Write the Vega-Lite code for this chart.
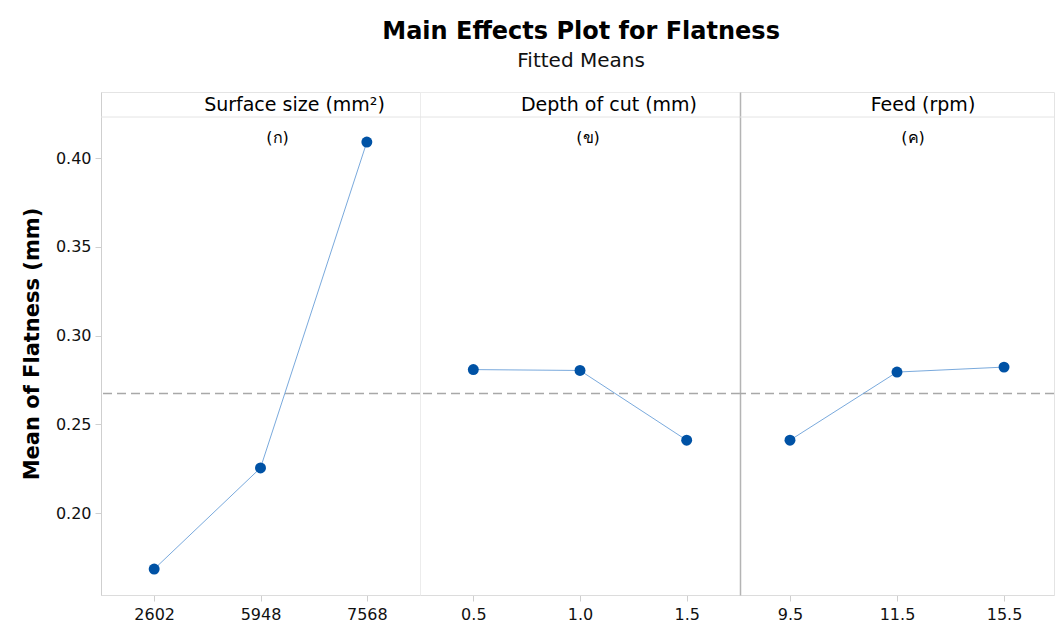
{
  "$schema": "https://vega.github.io/schema/vega-lite/v6.json",
  "padding": {"left": 20, "top": 19, "right": 0, "bottom": 0},
  "background": "white",
  "bounds": "flush",
  "title": {
    "text": "Main Effects Plot for Flatness",
    "subtitle": "Fitted Means",
    "font": "DejaVu Sans",
    "fontSize": 24,
    "fontWeight": "bold",
    "color": "#000",
    "subtitleFont": "DejaVu Sans",
    "subtitleFontSize": 20,
    "subtitleColor": "#111",
    "subtitlePadding": 7,
    "anchor": "middle",
    "dx": 43,
    "offset": 21
  },
  "datasets": {
    "means": [
      {"factor": "Surface size", "level": "2602", "mean": 0.1684},
      {"factor": "Surface size", "level": "5948", "mean": 0.2254},
      {"factor": "Surface size", "level": "7568", "mean": 0.409},
      {"factor": "Depth of cut", "level": "0.5", "mean": 0.2808},
      {"factor": "Depth of cut", "level": "1.0", "mean": 0.2803},
      {"factor": "Depth of cut", "level": "1.5", "mean": 0.241},
      {"factor": "Feed", "level": "9.5", "mean": 0.241},
      {"factor": "Feed", "level": "11.5", "mean": 0.2794},
      {"factor": "Feed", "level": "15.5", "mean": 0.2822}
    ],
    "headers": [
      {"factor": "Surface size", "title": "Surface size (mm²)", "sub": "(ก)"},
      {"factor": "Depth of cut", "title": "Depth of cut (mm)", "sub": "(ข)"},
      {"factor": "Feed", "title": "Feed (rpm)", "sub": "(ค)"}
    ],
    "grand": [{"g": 0.2673}]
  },
  "spacing": 0,
  "hconcat": [
    {
      "width": 319,
      "height": 503,
      "view": {"stroke": "#e4e4e4"},
      "layer": [
        {
          "data": {"name": "grand"},
          "mark": {"type": "rule", "color": "#e4e4e4", "strokeWidth": 1},
          "encoding": {
            "y": {"datum": 0.4231, "type": "quantitative", "scale": {"domain": [0.1538, 0.4372], "nice": false, "zero": false},
              "axis": {"values": [0.2, 0.25, 0.3, 0.35, 0.4], "format": ".2f", "title": "Mean of Flatness (mm)", "titleFont": "DejaVu Sans", "titleFontSize": 21, "titleFontWeight": "bold", "titleColor": "#000", "titlePadding": 13, "tickSize": 6, "labelPadding": 4, "domainColor": "#cfcfcf"}}
          }
        },
        {
          "data": {"name": "grand"},
          "mark": {"type": "rule", "color": "#a8a8a8", "strokeWidth": 1.6, "strokeDash": [9, 5]},
          "encoding": {
            "y": {"field": "g", "type": "quantitative", "scale": {"domain": [0.1538, 0.4372], "nice": false, "zero": false},
              "axis": {"values": [0.2, 0.25, 0.3, 0.35, 0.4], "format": ".2f", "title": "Mean of Flatness (mm)", "titleFont": "DejaVu Sans", "titleFontSize": 21, "titleFontWeight": "bold", "titleColor": "#000", "titlePadding": 13, "tickSize": 6, "labelPadding": 4, "domainColor": "#cfcfcf"}}
          }
        },
        {
          "data": {"name": "means"},
          "transform": [{"filter": "datum.factor === 'Surface size'"}],
          "mark": {"type": "line", "color": "#6a9fd8", "strokeWidth": 0.9},
          "encoding": {
            "x": {"field": "level", "type": "ordinal", "scale": {"domain": ["2602", "5948", "7568"], "type": "point", "padding": 0.5}, "axis": {"title": null, "labelAngle": 0}},
            "y": {"field": "mean", "type": "quantitative", "scale": {"domain": [0.1538, 0.4372], "nice": false, "zero": false},
              "axis": {"values": [0.2, 0.25, 0.3, 0.35, 0.4], "format": ".2f", "title": "Mean of Flatness (mm)", "titleFont": "DejaVu Sans", "titleFontSize": 21, "titleFontWeight": "bold", "titleColor": "#000", "titlePadding": 13, "tickSize": 6, "labelPadding": 4, "domainColor": "#cfcfcf"}}
          }
        },
        {
          "data": {"name": "means"},
          "transform": [{"filter": "datum.factor === 'Surface size'"}],
          "mark": {"type": "circle", "color": "#0052a5", "opacity": 1, "size": 120},
          "encoding": {
            "x": {"field": "level", "type": "ordinal", "scale": {"domain": ["2602", "5948", "7568"], "type": "point", "padding": 0.5}, "axis": {"title": null, "labelAngle": 0}},
            "y": {"field": "mean", "type": "quantitative", "scale": {"domain": [0.1538, 0.4372], "nice": false, "zero": false},
              "axis": {"values": [0.2, 0.25, 0.3, 0.35, 0.4], "format": ".2f", "title": "Mean of Flatness (mm)", "titleFont": "DejaVu Sans", "titleFontSize": 21, "titleFontWeight": "bold", "titleColor": "#000", "titlePadding": 13, "tickSize": 6, "labelPadding": 4, "domainColor": "#cfcfcf"}}
          }
        },
        {
          "data": {"name": "headers"},
          "transform": [{"filter": "datum.factor === 'Surface size'"}],
          "mark": {"type": "text", "font": "DejaVu Sans", "fontSize": 19, "color": "#000", "dx": 34, "baseline": "middle"},
          "encoding": {
            "x": {"datum": "5948", "type": "ordinal"},
            "y": {"datum": 0.4301, "type": "quantitative"},
            "text": {"field": "title"}
          }
        },
        {
          "data": {"name": "headers"},
          "transform": [{"filter": "datum.factor === 'Surface size'"}],
          "mark": {"type": "text", "font": "DejaVu Sans", "fontSize": 16, "color": "#000", "dx": 17, "baseline": "middle"},
          "encoding": {
            "x": {"datum": "5948", "type": "ordinal"},
            "y": {"datum": 0.4113, "type": "quantitative"},
            "text": {"field": "sub"}
          }
        }
      ]
    },
    {
      "width": 320,
      "height": 503,
      "view": {"stroke": "#ececec"},
      "layer": [
        {
          "data": {"name": "grand"},
          "mark": {"type": "rule", "color": "#e4e4e4", "strokeWidth": 1},
          "encoding": {
            "y": {"datum": 0.4231, "type": "quantitative", "scale": {"domain": [0.1538, 0.4372], "nice": false, "zero": false}, "axis": null}
          }
        },
        {
          "data": {"name": "grand"},
          "mark": {"type": "rule", "color": "#a8a8a8", "strokeWidth": 1.6, "strokeDash": [9, 5]},
          "encoding": {
            "y": {"field": "g", "type": "quantitative", "scale": {"domain": [0.1538, 0.4372], "nice": false, "zero": false}, "axis": null}
          }
        },
        {
          "data": {"name": "means"},
          "transform": [{"filter": "datum.factor === 'Depth of cut'"}],
          "mark": {"type": "line", "color": "#6a9fd8", "strokeWidth": 0.9},
          "encoding": {
            "x": {"field": "level", "type": "ordinal", "scale": {"domain": ["0.5", "1.0", "1.5"], "type": "point", "padding": 0.5}, "axis": {"title": null, "labelAngle": 0}},
            "y": {"field": "mean", "type": "quantitative", "scale": {"domain": [0.1538, 0.4372], "nice": false, "zero": false}, "axis": null}
          }
        },
        {
          "data": {"name": "means"},
          "transform": [{"filter": "datum.factor === 'Depth of cut'"}],
          "mark": {"type": "circle", "color": "#0052a5", "opacity": 1, "size": 120},
          "encoding": {
            "x": {"field": "level", "type": "ordinal", "scale": {"domain": ["0.5", "1.0", "1.5"], "type": "point", "padding": 0.5}, "axis": {"title": null, "labelAngle": 0}},
            "y": {"field": "mean", "type": "quantitative", "scale": {"domain": [0.1538, 0.4372], "nice": false, "zero": false}, "axis": null}
          }
        },
        {
          "data": {"name": "headers"},
          "transform": [{"filter": "datum.factor === 'Depth of cut'"}],
          "mark": {"type": "text", "font": "DejaVu Sans", "fontSize": 19, "color": "#000", "dx": 29, "baseline": "middle"},
          "encoding": {
            "x": {"datum": "1.0", "type": "ordinal"},
            "y": {"datum": 0.4301, "type": "quantitative"},
            "text": {"field": "title"}
          }
        },
        {
          "data": {"name": "headers"},
          "transform": [{"filter": "datum.factor === 'Depth of cut'"}],
          "mark": {"type": "text", "font": "DejaVu Sans", "fontSize": 16, "color": "#000", "dx": 8, "baseline": "middle"},
          "encoding": {
            "x": {"datum": "1.0", "type": "ordinal"},
            "y": {"datum": 0.4113, "type": "quantitative"},
            "text": {"field": "sub"}
          }
        }
      ]
    },
    {
      "width": 314,
      "height": 503,
      "view": {"stroke": "#e4e4e4"},
      "layer": [
        {
          "data": {"name": "grand"},
          "mark": {"type": "rule", "color": "#e4e4e4", "strokeWidth": 1},
          "encoding": {
            "y": {"datum": 0.4231, "type": "quantitative", "scale": {"domain": [0.1538, 0.4372], "nice": false, "zero": false},
              "axis": {"labels": false, "ticks": false, "title": null, "domainColor": "#b4b4b4", "domainWidth": 1.5}}
          }
        },
        {
          "data": {"name": "grand"},
          "mark": {"type": "rule", "color": "#a8a8a8", "strokeWidth": 1.6, "strokeDash": [9, 5]},
          "encoding": {
            "y": {"field": "g", "type": "quantitative", "scale": {"domain": [0.1538, 0.4372], "nice": false, "zero": false},
              "axis": {"labels": false, "ticks": false, "title": null, "domainColor": "#b4b4b4", "domainWidth": 1.5}}
          }
        },
        {
          "data": {"name": "means"},
          "transform": [{"filter": "datum.factor === 'Feed'"}],
          "mark": {"type": "line", "color": "#6a9fd8", "strokeWidth": 0.9},
          "encoding": {
            "x": {"field": "level", "type": "ordinal", "scale": {"domain": ["9.5", "11.5", "15.5"], "type": "point", "padding": 0.467}, "axis": {"title": null, "labelAngle": 0}},
            "y": {"field": "mean", "type": "quantitative", "scale": {"domain": [0.1538, 0.4372], "nice": false, "zero": false},
              "axis": {"labels": false, "ticks": false, "title": null, "domainColor": "#b4b4b4", "domainWidth": 1.5}}
          }
        },
        {
          "data": {"name": "means"},
          "transform": [{"filter": "datum.factor === 'Feed'"}],
          "mark": {"type": "circle", "color": "#0052a5", "opacity": 1, "size": 120},
          "encoding": {
            "x": {"field": "level", "type": "ordinal", "scale": {"domain": ["9.5", "11.5", "15.5"], "type": "point", "padding": 0.467}, "axis": {"title": null, "labelAngle": 0}},
            "y": {"field": "mean", "type": "quantitative", "scale": {"domain": [0.1538, 0.4372], "nice": false, "zero": false},
              "axis": {"labels": false, "ticks": false, "title": null, "domainColor": "#b4b4b4", "domainWidth": 1.5}}
          }
        },
        {
          "data": {"name": "headers"},
          "transform": [{"filter": "datum.factor === 'Feed'"}],
          "mark": {"type": "text", "font": "DejaVu Sans", "fontSize": 19, "color": "#000", "dx": 26, "baseline": "middle"},
          "encoding": {
            "x": {"datum": "11.5", "type": "ordinal"},
            "y": {"datum": 0.4301, "type": "quantitative"},
            "text": {"field": "title"}
          }
        },
        {
          "data": {"name": "headers"},
          "transform": [{"filter": "datum.factor === 'Feed'"}],
          "mark": {"type": "text", "font": "DejaVu Sans", "fontSize": 16, "color": "#000", "dx": 16, "baseline": "middle"},
          "encoding": {
            "x": {"datum": "11.5", "type": "ordinal"},
            "y": {"datum": 0.4113, "type": "quantitative"},
            "text": {"field": "sub"}
          }
        }
      ]
    }
  ],
  "config": {
    "font": "DejaVu Sans",
    "axis": {
      "grid": false,
      "labelFont": "DejaVu Sans",
      "labelFontSize": 16,
      "labelColor": "#111",
      "tickColor": "#cfcfcf",
      "domainColor": "#dcdcdc",
      "tickSize": 6,
      "labelPadding": 5
    }
  }
}
